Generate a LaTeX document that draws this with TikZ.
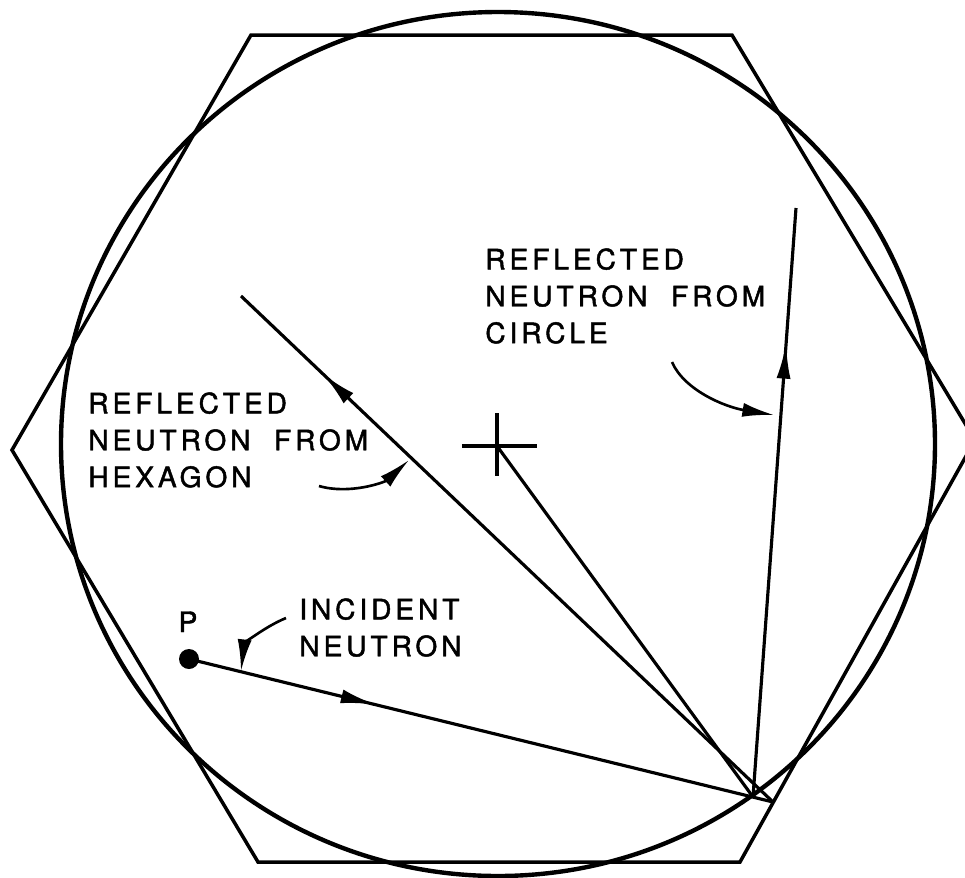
\documentclass[tikz,border=0pt]{standalone}
\usepackage{fontspec}
\newfontfamily\leroy[LetterSpace=14,FakeBold=1.6]{TeX Gyre Heros}
\usetikzlibrary{arrows.meta,decorations.markings}
\tikzset{
  wall/.style={line width=2pt},
  ray/.style={line width=1.8pt},
  leader/.style={line width=1.5pt,-{Latex[length=18pt,width=8pt]}},
  lbl/.style={font={\leroy\fontsize{16}{21}\selectfont},align=left,inner sep=0pt,anchor=north west},
  midarrow/.style={postaction={decorate},decoration={markings,mark=at position #1 with {\arrow{Latex[length=20pt,width=8pt]}}}}
}
\begin{document}
\begin{tikzpicture}[x=0.02cm,y=-0.02cm]
  \useasboundingbox (0,0) rectangle (965,877);
  \clip (0,0) rectangle (965,877);
  % hexagon and circle
  \draw[wall] (251,35) -- (732,35) -- (975,440) -- (740,862) -- (258,862) -- (12,450) -- cycle;
  \draw[wall,line width=2.5pt] (498,444) ellipse [x radius=437,y radius=432];
  % points
  \coordinate (O) at (497,446);
  \coordinate (C) at (753,797);
  \coordinate (H) at (773,802);
  \coordinate (Rc) at (796,208);
  \coordinate (Rh) at (241,296);
  \fill (189,659) circle (10) coordinate (P);
  \node[font={\leroy\fontsize{16}{21}\selectfont},inner sep=0pt,anchor=base] (plabel) at (188,632) {P};
  % centre cross
  \draw[ray] ([xshift=-20]O) -- ([xshift=23]O);
  \draw[ray] ([yshift=-17]O) -- ([yshift=19]O);
  % rays
  \draw[ray,midarrow=0.32] (P) -- (H);
  \draw[ray] (O) -- (C);
  \draw[ray,midarrow=0.77] (C) -- (Rc);
  \draw[ray,midarrow=0.846] (H) -- (Rh);
  % labels
  \node[lbl] (circlbl) at (485,248) {REFLECTED\\NEUTRON\ \ FROM\\CIRCLE};
  \node[lbl] (hexlbl) at (88,392) {REFLECTED\\NEUTRON\ \ FROM\\HEXAGON};
  \node[lbl] (inclbl) at (299,598) {INCIDENT\\NEUTRON};
  % leaders
  \draw[leader] (672,362) .. controls (684,390) and (725,407) .. (774,415);
  \draw[leader] (319,486) .. controls (350,495) and (385,482) .. (409,460);
  \draw[leader] (286,618) .. controls (262,628) and (244,645) .. (241,671);
\end{tikzpicture}
\end{document}
